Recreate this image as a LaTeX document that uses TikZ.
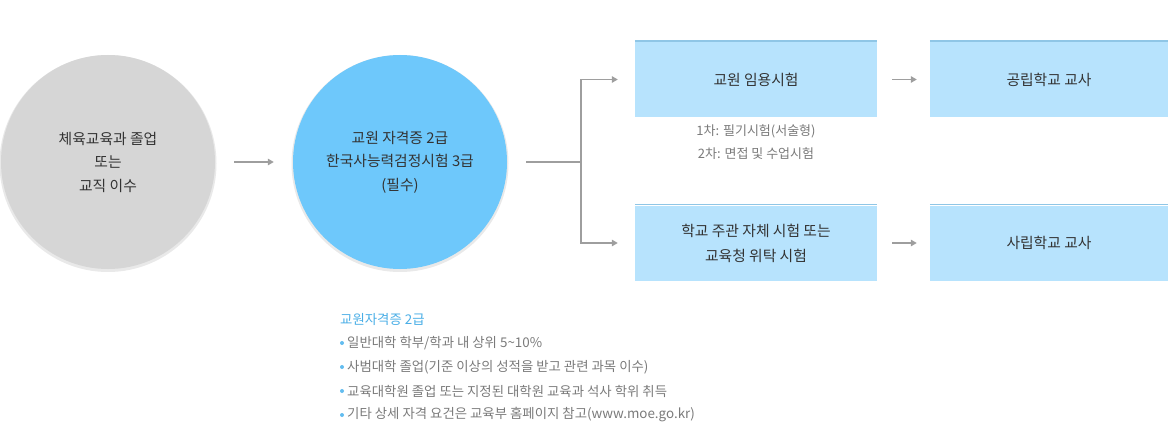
\documentclass[tikz,border=0pt]{standalone}
\usepackage{fontspec}
\setmainfont{Noto Sans CJK KR}
\usetikzlibrary{arrows.meta,positioning}
\definecolor{graycirc}{HTML}{D6D6D6}
\definecolor{bluecirc}{HTML}{6EC8FB}
\definecolor{boxfill}{HTML}{B7E3FD}
\definecolor{boxtop}{HTML}{8FC6E6}
\definecolor{conncol}{HTML}{9E9E9E}
\definecolor{txt}{HTML}{333333}
\definecolor{notegray}{HTML}{7A7A7A}
\definecolor{noteblue}{HTML}{4AAEE6}
\definecolor{bulletblue}{HTML}{63BDF0}
\tikzset{
  circ/.style={circle, minimum size=214pt, inner sep=0pt, align=center, text=txt,
    font=\fontsize{14.8}{23.5}\selectfont},
  stepbox/.style={rectangle, minimum height=75pt, inner sep=0pt, fill=boxfill, align=center,
    text=txt, font=\fontsize{14.8}{25}\selectfont},
  conn/.style={draw=conncol, line width=1.8pt, -{Triangle[length=6pt,width=6.5pt]}},
  plain/.style={draw=conncol, line width=1.8pt},
  note/.style={anchor=west, text=notegray, inner sep=0pt, font=\fontsize{13.4}{15}\selectfont},
  bullet/.style={fill=bulletblue},
}
\begin{document}
\begin{tikzpicture}[x=1pt,y=-1pt]
\useasboundingbox (0,0) rectangle (1170,428);
% circles with soft shadow
\fill[black!25, opacity=0.35] (108,163.5) circle (108.5pt);
\node[circ, fill=graycirc] (g) at (108,162) {체육교육과 졸업\\또는\\교직 이수};
\fill[black!25, opacity=0.35] (400,163.5) circle (108.5pt);
\node[circ, fill=bluecirc] (b) at (400,162) {교원 자격증 2급\\한국사능력검정시험 3급\\(필수)};
% boxes
\node[stepbox, minimum width=242pt] (e1) at (756,79.5) {교원 임용시험};
\node[stepbox, minimum width=238pt] (p1) at (1049,79.5) {공립학교 교사};
\node[stepbox, minimum width=242pt] (e2) at (756,243) {학교 주관 자체 시험 또는\\교육청 위탁 시험};
\node[stepbox, minimum width=238pt] (p2) at (1049,243) {사립학교 교사};
\foreach \n in {e1,p1,e2,p2}{
  \draw[boxtop, line width=1.6pt] ([yshift=0.8pt]\n.north west) -- ([yshift=0.8pt]\n.north east);
}
% exam note
\node[text=notegray, align=center, below=7.5pt of e1, font=\fontsize{13}{23}\selectfont, inner sep=0pt] (en) {1차: 필기시험(서술형)\\2차: 면접 및 수업시험};
% connectors
\draw[conn, shorten <=19pt, shorten >=19pt] (g.east) -- (b.west);
\coordinate (j) at (581,162);
\draw[plain, shorten <=19pt] (b.east) -- (j);
\draw[conn, shorten >=17pt] (j) |- (e1.west);
\draw[conn, shorten >=17pt] (j) |- (e2.west);
\draw[conn, shorten <=15pt, shorten >=13pt] (e1.east) -- (p1.west);
\draw[conn, shorten <=15pt, shorten >=13pt] (e2.east) -- (p2.west);
% bottom notes
\node[note, text=noteblue] (nt) at (340,319) {교원자격증 2급};
\fill[bullet] (342,343) circle (2pt);
\node[note] (n1) at (347,343) {일반대학 학부/학과 내 상위 5\textasciitilde10\%};
\fill[bullet] (342,367) circle (2pt);
\node[note] (n2) at (347,367) {사범대학 졸업(기준 이상의 성적을 받고 관련 과목 이수)};
\fill[bullet] (342,391) circle (2pt);
\node[note] (n3) at (347,391) {교육대학원 졸업 또는 지정된 대학원 교육과 석사 학위 취득};
\fill[bullet] (342,415) circle (2pt);
\node[note] (n4) at (347,415) {기타 상세 자격 요건은 교육부 홈페이지 참고(www.moe.go.kr)};
\end{tikzpicture}
\end{document}
